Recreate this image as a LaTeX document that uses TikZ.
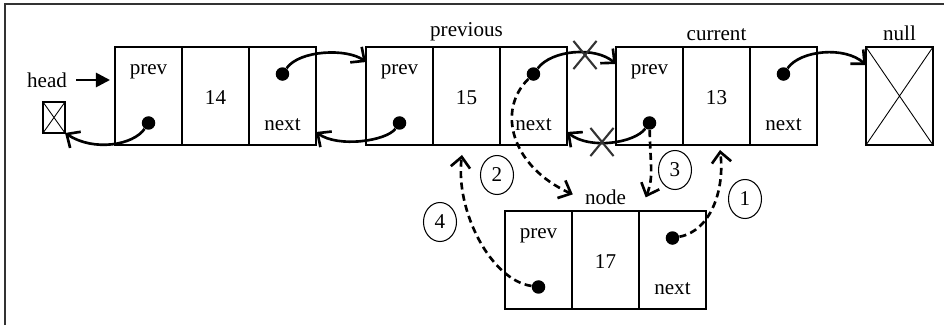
\documentclass[tikz,border=0pt]{standalone}
\usepackage{fontspec}
\setmainfont{Liberation Serif}
\usetikzlibrary{arrows.meta,positioning,shapes.geometric,shapes.misc}

\tikzset{
  cell/.style={draw, line width=1pt, minimum width=1.34cm, minimum height=1.96cm, inner sep=0pt, outer sep=0pt},
  dot/.style={circle, fill, inner sep=0pt, minimum size=0.27cm},
  link/.style={line width=1.5pt, -{Straight Barb[length=6pt,width=11pt]}},
  newlink/.style={link, dash pattern=on 4pt off 2.5pt},
  stepnum/.style={draw, ellipse, line width=0.6pt, minimum width=0.66cm, minimum height=0.78cm, inner sep=0pt},
  cut/.style={draw=black!80, cross out, line width=1.2pt, minimum width=0.42cm, minimum height=0.52cm, inner sep=0pt},
}

\begin{document}
\begin{tikzpicture}[x=0.02cm, y=-0.02cm, font=\fontsize{12}{14}\selectfont]
    \useasboundingbox (0,0) rectangle (944,325);
    \draw[line width=1.2pt, black!80] (5,325) -- (5,4) -- (944,4);

    % the four list nodes: prev | value | next
    \foreach \nm/\x/\y/\val in {a/215.5/96/14, b/466.5/96/15, c/716.5/96/13, d/605.5/260/17}{
        \node[cell] (\nm v) at (\x,\y) {};
        \node[cell, left=0pt of \nm v] (\nm p) {};
        \node[cell, right=0pt of \nm v] (\nm n) {};
        \node (\nm val) at ([yshift=-0.04cm]\nm v.center) {\val};
        \node (\nm pt) at ([yshift=-0.5cm]\nm p.north) {prev};
        \node (\nm nt) at ([yshift=0.4cm]\nm n.south) {next};
        \node[dot] (\nm pd) at ([yshift=0.44cm]\nm p.south) {};
        \node[dot] (\nm nd) at ([yshift=-0.54cm]\nm n.north) {};
    }

    % null boxes
    \node[cell] (nul) at (899.5,96) {};
    \draw[line width=0.5pt] (nul.north west) -- (nul.south east) (nul.north east) -- (nul.south west);
    \node[cell, minimum width=0.44cm, minimum height=0.62cm] (hbox) at (54,117.5) {};
    \draw[line width=0.5pt] (hbox.north west) -- (hbox.south east) (hbox.north east) -- (hbox.south west);

    % labels
    \node (headlbl) at (47,80) {head};
    \node[above=0pt of bv] (prevlbl) {previous};
    \node[above=0pt of cv] (curlbl) {current};
    \node[above=0pt of nul] (nullbl) {null};
    \node[above=0pt of dv] (nodelbl) {node};

    \draw[line width=1.5pt, -{Triangle[length=8pt,width=8pt]}] ([xshift=0.06cm]headlbl.east) -- ([xshift=-0.1cm]ap.west |- headlbl);

    % old links
    \draw[link] (and) .. controls +(17,-24) and +(-19,-14) .. ([yshift=-0.3cm]bp.north west);
    \draw[link] (bpd) .. controls +(-13,18) and +(22,16) .. ([yshift=0.26cm]an.south east);
    \draw[link] (apd) .. controls +(-15,22) and +(29,19) .. (hbox.south east);
    \draw[link] (bnd) .. controls +(18,-24) and +(-21,-18) .. ([yshift=-0.34cm]cp.north west);
    \draw[link] (cpd) .. controls +(-15,20) and +(23,18) .. ([yshift=0.26cm]bn.south east);
    \draw[link] (cnd) .. controls +(17,-24) and +(-21,-19) .. ([yshift=-0.36cm]nul.north west);

    % broken links
    \node[cut] (x1) at (585,55) {};
    \node[cut] (x2) at (602,142) {};

    % new links
    \draw[newlink] (bnd) .. controls +(-37,36) and +(-62,-28) .. ([xshift=-0.12cm,yshift=0.06cm]nodelbl.west);
    \draw[newlink] (cpd) .. controls +(1,45) and +(8,-20) .. ([xshift=0.27cm]nodelbl.east);
    \draw[newlink] (dnd) .. controls +(38,-7) and +(5,40) .. ([xshift=0.07cm,yshift=-0.1cm]cv.south);
    \draw[newlink] (dpd) .. controls +(-48,-7) and +(-7,55) .. ([xshift=-0.09cm,yshift=-0.2cm]bv.south);

    % steps
    \node[stepnum] (s1) at (745,199) {1};
    \node[stepnum] (s2) at (497,175) {2};
    \node[stepnum] (s3) at (675,170) {3};
    \node[stepnum] (s4) at (440,222) {4};
\end{tikzpicture}
\end{document}
